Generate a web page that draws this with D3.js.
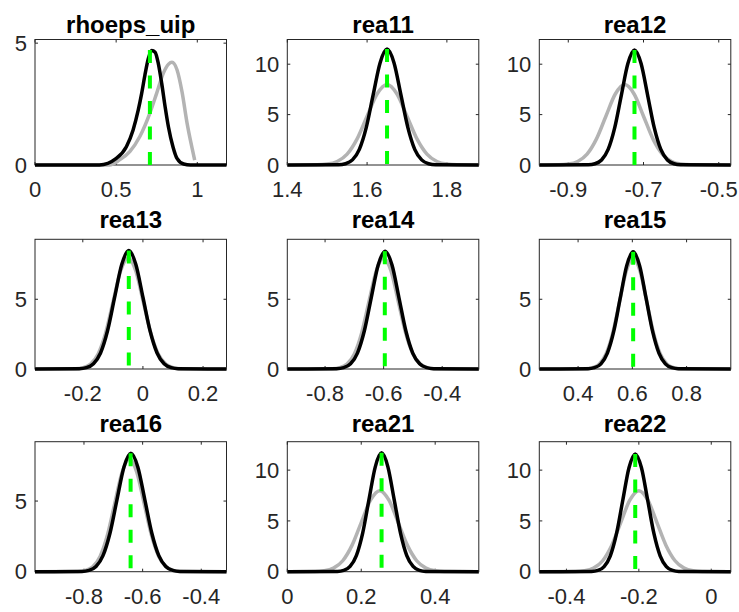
<!DOCTYPE html>
<html><head><meta charset="utf-8">
<script src="https://cdn.jsdelivr.net/npm/d3@7/dist/d3.min.js"></script>
<style>body{margin:0;background:#fff} svg{display:block}</style>
</head><body>
<svg id="c" width="739" height="612"></svg>
<script>
// ---- data ----
const titles = ["rhoeps_uip","rea11","rea12","rea13","rea14","rea15","rea16","rea21","rea22"];
const xLimits = [[0,1.18],[1.4,1.88],[-0.977,-0.468],[-0.359,0.278],[-0.929,-0.275],[0.257,0.963],[-0.967,-0.314],[0,0.518],[-0.475,0.054]];
const yLimits = [[0,5.15],[0,12.45],[0,12.45],[0,9.3],[0,9.3],[0,9.3],[0,9.2],[0,12.8],[0,12.8]];
const xTickValues = [[0,0.5,1],[1.4,1.6,1.8],[-0.9,-0.7,-0.5],[-0.2,0,0.2],[-0.8,-0.6,-0.4],[0.4,0.6,0.8],[-0.8,-0.6,-0.4],[0,0.2,0.4],[-0.4,-0.2,0]];
const yTickValues = [[0,5],[0,5,10],[0,5,10],[0,5],[0,5],[0,5],[0,5],[0,5,10],[0,5,10]];

// prior densities (gray)
const priorX = [
  [0,0.459,0.521,0.584,0.646,0.708,0.750,0.791,0.823,0.844,0.875,0.906,0.937,0.968,0.984],
  [1.4,1.475,1.5,1.525,1.55,1.575,1.6,1.625,1.65,1.675,1.7,1.725,1.75,1.775,1.8,1.825,1.88],
  [-0.977,-0.925,-0.9,-0.875,-0.85,-0.825,-0.8,-0.775,-0.75,-0.725,-0.7,-0.675,-0.65,-0.625,-0.6,-0.575,-0.468],
  [-0.359,-0.224,-0.199,-0.174,-0.149,-0.124,-0.099,-0.074,-0.049,-0.024,0.001,0.026,0.051,0.076,0.101,0.126,0.278],
  [-0.929,-0.775,-0.75,-0.725,-0.7,-0.675,-0.65,-0.625,-0.6,-0.575,-0.55,-0.525,-0.5,-0.475,-0.45,-0.425,-0.275],
  [0.257,0.428,0.453,0.478,0.503,0.528,0.553,0.578,0.603,0.628,0.653,0.678,0.703,0.728,0.753,0.778,0.963],
  [-0.967,-0.82,-0.795,-0.77,-0.745,-0.72,-0.695,-0.67,-0.645,-0.62,-0.595,-0.57,-0.545,-0.52,-0.495,-0.47,-0.314],
  [0,0.075,0.1,0.125,0.15,0.175,0.2,0.225,0.25,0.275,0.3,0.325,0.35,0.375,0.4,0.425,0.518],
  [-0.475,-0.375,-0.35,-0.325,-0.3,-0.275,-0.25,-0.225,-0.2,-0.175,-0.15,-0.125,-0.1,-0.075,-0.05,-0.025,0.054]
];
const priorY = [
  [0,0,0.21,0.55,1.17,2.13,2.95,3.77,4.14,4.22,3.91,3.0,1.72,0.69,0.2],
  [0,0.018,0.089,0.350,1.080,2.591,4.840,7.042,7.98,7.042,4.840,2.591,1.080,0.350,0.089,0.018,0],
  [0,0.018,0.089,0.350,1.080,2.591,4.840,7.042,7.98,7.042,4.840,2.591,1.080,0.350,0.089,0.018,0],
  [0,0.018,0.089,0.350,1.080,2.591,4.840,7.042,7.98,7.042,4.840,2.591,1.080,0.350,0.089,0.018,0],
  [0,0.018,0.089,0.350,1.080,2.591,4.840,7.042,7.98,7.042,4.840,2.591,1.080,0.350,0.089,0.018,0],
  [0,0.018,0.089,0.350,1.080,2.591,4.840,7.042,7.98,7.042,4.840,2.591,1.080,0.350,0.089,0.018,0],
  [0,0.018,0.089,0.350,1.080,2.591,4.840,7.042,7.98,7.042,4.840,2.591,1.080,0.350,0.089,0.018,0],
  [0,0.018,0.089,0.350,1.080,2.591,4.840,7.042,7.98,7.042,4.840,2.591,1.080,0.350,0.089,0.018,0],
  [0,0.018,0.089,0.350,1.080,2.591,4.840,7.042,7.98,7.042,4.840,2.591,1.080,0.350,0.089,0.018,0]
];

// posterior densities (black)
const postX = [
  [0,0.397,0.501,0.563,0.604,0.636,0.657,0.677,0.698,0.719,0.740,0.760,0.781,0.802,0.822,0.850,0.875,0.916,0.958,1.18],
  [1.4,1.5286,1.5459,1.5633,1.5806,1.598,1.6153,1.6327,1.65,1.6674,1.6847,1.7021,1.7194,1.7368,1.7541,1.7715,1.88],
  [-0.977,-0.8465,-0.829,-0.8115,-0.794,-0.7765,-0.759,-0.7415,-0.724,-0.7065,-0.689,-0.6715,-0.654,-0.6365,-0.619,-0.6015,-0.468],
  [-0.359,-0.2115,-0.188,-0.1645,-0.141,-0.1175,-0.094,-0.0705,-0.047,-0.0235,0,0.0235,0.047,0.0705,0.094,0.1175,0.278],
  [-0.929,-0.7602,-0.7366,-0.713,-0.6894,-0.6658,-0.6422,-0.6186,-0.595,-0.5714,-0.5478,-0.5242,-0.5006,-0.477,-0.4534,-0.4298,-0.275],
  [0.257,0.4368,0.4605,0.4843,0.508,0.5318,0.5555,0.5793,0.603,0.6268,0.6505,0.6743,0.698,0.7218,0.7455,0.7693,0.963],
  [-0.967,-0.8066,-0.7828,-0.759,-0.7352,-0.7114,-0.6876,-0.6638,-0.64,-0.6162,-0.5924,-0.5686,-0.5448,-0.521,-0.4972,-0.4734,-0.314],
  [0,0.1357,0.1527,0.1698,0.1868,0.2039,0.2209,0.238,0.255,0.2721,0.2891,0.3062,0.3232,0.3403,0.3573,0.3744,0.518],
  [-0.475,-0.3304,-0.3132,-0.296,-0.2788,-0.2616,-0.2444,-0.2272,-0.21,-0.1928,-0.1756,-0.1584,-0.1412,-0.124,-0.1068,-0.0896,0.054]
];
const postY = [
  [0,0,0.27,0.75,1.43,2.25,2.93,3.68,4.36,4.70,4.63,4.16,3.34,2.38,1.57,0.75,0.27,0.04,0,0],
  [0,0.025,0.128,0.505,1.556,3.734,6.975,10.149,11.5,10.149,6.975,3.734,1.556,0.505,0.128,0.025,0],
  [0,0.025,0.127,0.500,1.542,3.702,6.914,10.061,11.4,10.061,6.914,3.702,1.542,0.500,0.127,0.025,0],
  [0,0.019,0.094,0.373,1.149,2.757,5.149,7.492,8.49,7.492,5.149,2.757,1.149,0.373,0.094,0.019,0],
  [0,0.019,0.094,0.371,1.143,2.744,5.125,7.457,8.45,7.457,5.125,2.744,1.143,0.371,0.094,0.019,0],
  [0,0.018,0.093,0.369,1.137,2.727,5.095,7.413,8.4,7.413,5.095,2.727,1.137,0.369,0.093,0.018,0],
  [0,0.018,0.093,0.368,1.134,2.721,5.082,7.395,8.38,7.395,5.082,2.721,1.134,0.368,0.093,0.018,0],
  [0,0.026,0.130,0.514,1.583,3.799,7.096,10.325,11.7,10.325,7.096,3.799,1.583,0.514,0.130,0.026,0],
  [0,0.026,0.129,0.509,1.569,3.767,7.035,10.237,11.6,10.237,7.035,3.767,1.569,0.509,0.129,0.026,0]
];

// posterior mode (green dashed) and its height
const modeX = [0.708,1.65,-0.724,-0.047,-0.596,0.603,-0.641,0.255,-0.21];
const modeTop = [4.72,11.5,11.4,8.49,8.45,8.4,8.38,11.7,11.6];

// ---- layout ----
const colLeft = [35, 287.3, 539.3], colW = 191.5;
const rowTop = [39.5, 239.3, 441.7], rowBottom = [165, 369, 571.7];
const titleBase = [32.5, 228.3, 431.7];
const axisCol = "#262626";
const svg = d3.select("#c");

titles.forEach((t, i) => {
  const r = Math.floor(i / 3), c = i % 3;
  const L = colLeft[c], R = L + colW, T = rowTop[r], B = rowBottom[r];
  const x = d3.scaleLinear().domain(xLimits[i]).range([L, R]);
  const y = d3.scaleLinear().domain(yLimits[i]).range([B, T]);
  const g = svg.append("g");

  // box
  g.append("rect").attr("x", L).attr("y", T).attr("width", R - L).attr("height", B - T)
    .attr("fill", "none").attr("stroke", axisCol).attr("stroke-width", 1);

  // ticks (inward, on all four sides)
  const tl = 3;
  xTickValues[i].forEach(v => {
    const px = x(v);
    g.append("line").attr("x1", px).attr("x2", px).attr("y1", B).attr("y2", B - tl).attr("stroke", axisCol);
    g.append("line").attr("x1", px).attr("x2", px).attr("y1", T).attr("y2", T + tl).attr("stroke", axisCol);
    g.append("text").attr("x", px).attr("y", B + 32).attr("text-anchor", "middle")
      .attr("font-family", "'Liberation Sans', Arial, sans-serif").attr("font-size", 22)
      .attr("fill", axisCol).text(String(v));
  });
  yTickValues[i].forEach(v => {
    const py = y(v);
    g.append("line").attr("x1", L).attr("x2", L + tl).attr("y1", py).attr("y2", py).attr("stroke", axisCol);
    g.append("line").attr("x1", R).attr("x2", R - tl).attr("y1", py).attr("y2", py).attr("stroke", axisCol);
    g.append("text").attr("x", L - 8).attr("y", py).attr("dy", "0.35em").attr("text-anchor", "end")
      .attr("font-family", "'Liberation Sans', Arial, sans-serif").attr("font-size", 22)
      .attr("fill", axisCol).text(String(v));
  });

  // title
  g.append("text").attr("x", (L + R) / 2).attr("y", titleBase[r]).attr("text-anchor", "middle")
    .attr("font-family", "'Liberation Sans', Arial, sans-serif").attr("font-size", 24)
    .attr("font-weight", "bold").attr("fill", "#000").text(t);

  const line = d3.line().x(d => x(d[0])).y(d => y(d[1])).curve(d3.curveMonotoneX);
  const prior = priorX[i].map((v, k) => [v, priorY[i][k]]);
  const post = postX[i].map((v, k) => [v, postY[i][k]]);

  g.append("path").attr("d", line(prior)).attr("fill", "none")
    .attr("stroke", "#b3b3b3").attr("stroke-width", 3.5);
  g.append("path").attr("d", line(post)).attr("fill", "none")
    .attr("stroke", "#000").attr("stroke-width", 3.5);
  g.append("line").attr("x1", x(modeX[i])).attr("x2", x(modeX[i]))
    .attr("y1", y(modeTop[i])).attr("y2", y(0))
    .attr("stroke", "#00ff00").attr("stroke-width", 4).attr("stroke-dasharray", "13,12.5");
});
</script>
</body></html>
